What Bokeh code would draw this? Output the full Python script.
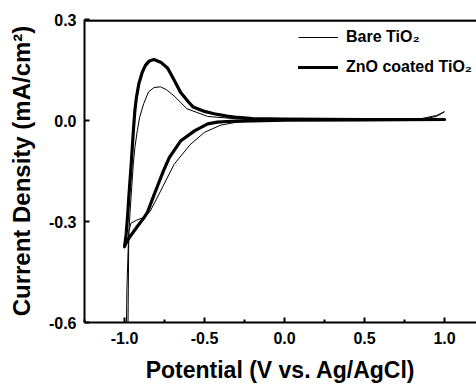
from bokeh.plotting import figure
from bokeh.models import (FixedTicker, NumeralTickFormatter, Range1d, Span,
                          Legend, LegendItem)
from bokeh.embed import file_html
from bokeh.resources import INLINE

# ---- data ----
series_names = ["Bare TiO\u2082", "ZnO coated TiO\u2082"]

bare_potential = [1.0, 0.95, 0.88, 0.5, 0.0, -0.2, -0.3, -0.4, -0.5, -0.59, -0.69,
                  -0.775, -0.84, -0.88, -0.92, -0.96, -0.973, -0.978, -0.985, -1.0,
                  -0.99, -0.985, -0.975, -0.965, -0.955, -0.945, -0.935, -0.92, -0.905,
                  -0.88, -0.85, -0.815, -0.775, -0.74, -0.69, -0.61, -0.48, -0.3,
                  0.0, 0.5, 0.85, 0.95, 1.0]
bare_current = [0.026, 0.012, 0.006, 0.002, 0.0, -0.002, -0.005, -0.014, -0.035, -0.072, -0.13,
                -0.21, -0.27, -0.288, -0.295, -0.305, -0.33, -0.6, -0.8, -0.9,
                -0.7, -0.5, -0.35, -0.27, -0.2, -0.13, -0.08, -0.03, 0.01,
                0.05, 0.085, 0.098, 0.1, 0.092, 0.073, 0.035, 0.012, 0.005,
                0.002, 0.002, 0.005, 0.015, 0.026]

zno_potential = [1.0, 0.5, 0.0, -0.2, -0.3, -0.36, -0.42, -0.48, -0.56, -0.65, -0.72,
                 -0.756, -0.79, -0.82, -0.856, -0.88, -0.92, -0.97, -0.995, -1.0,
                 -0.99, -0.98, -0.973, -0.965, -0.958, -0.95, -0.943, -0.935, -0.925,
                 -0.91, -0.89, -0.87, -0.845, -0.817, -0.77,
                 -0.73, -0.69, -0.65, -0.6, -0.57, -0.5, -0.44, -0.36, -0.29, -0.2,
                 0.0, 0.5, 1.0]
zno_current = [0.003, 0.002, 0.001, -0.001, -0.002, -0.003, -0.005, -0.01, -0.03, -0.061, -0.11,
               -0.149, -0.19, -0.227, -0.272, -0.29, -0.315, -0.348, -0.368, -0.375,
               -0.34, -0.28, -0.227, -0.175, -0.13, -0.07, -0.02, 0.03, 0.07,
               0.11, 0.142, 0.163, 0.177, 0.181, 0.172,
               0.155, 0.12, 0.084, 0.055, 0.04, 0.027, 0.02, 0.013, 0.009, 0.006,
               0.004, 0.003, 0.003]

x_major = [-1.0, -0.5, 0.0, 0.5, 1.0]
x_minor = [-1.25, -0.75, -0.25, 0.25, 0.75]
y_major = [-0.6, -0.3, 0.0, 0.3]

FONT = "Liberation Sans"

xr = Range1d(-1.25, 1.2)
yr = Range1d(-0.6, 0.3)
p = figure(width=476, height=385, output_backend="svg", toolbar_location=None,
           x_range=xr, y_range=yr,
           min_border_left=84, min_border_right=0, min_border_top=19, min_border_bottom=57)
p.outline_line_color = None
p.xgrid.visible = False
p.ygrid.visible = False

r_bare = p.line(bare_potential, bare_current, line_color="black", line_width=1,
                line_join="round")
r_zno = p.line(zno_potential, zno_current, line_color="black", line_width=3.2,
               line_join="round", line_cap="round")

for ax in (p.xaxis[0], p.yaxis[0]):
    ax.axis_line_width = 2
    ax.major_tick_line_width = 2
    ax.minor_tick_line_width = 2
    ax.major_tick_in = 5
    ax.major_tick_out = 0
    ax.minor_tick_in = 3
    ax.minor_tick_out = 0
    ax.major_label_text_font = FONT
    ax.major_label_text_font_style = "bold"
    ax.major_label_text_font_size = "16px"
    ax.major_label_text_color = "black"
    ax.axis_label_text_font = FONT
    ax.axis_label_text_font_style = "bold"
    ax.axis_label_text_color = "black"
    ax.formatter = NumeralTickFormatter(format="0.0")

p.xaxis[0].axis_label_text_font_size = "23px"
p.yaxis[0].axis_label_text_font_size = "24px"
p.xaxis[0].ticker = FixedTicker(ticks=x_major, minor_ticks=x_minor)
p.yaxis[0].ticker = FixedTicker(ticks=y_major, minor_ticks=[])
p.xaxis[0].axis_label = "Potential (V vs. Ag/AgCl)"
p.yaxis[0].axis_label = "Current Density (mA/cm\u00b2)"
p.xaxis[0].major_label_standoff = 9
p.yaxis[0].major_label_standoff = 8
p.xaxis[0].axis_label_standoff = 10
p.yaxis[0].axis_label_standoff = 11

legend = Legend(items=[LegendItem(label=series_names[0], renderers=[r_bare]),
                       LegendItem(label=series_names[1], renderers=[r_zno])],
                location=(214, 245), border_line_color=None, background_fill_alpha=0,
                padding=0, margin=0, spacing=10, glyph_width=40, glyph_height=20,
                label_height=20, label_standoff=8,
                label_text_font=FONT, label_text_font_style="bold",
                label_text_font_size="16px", label_text_color="black")
p.add_layout(legend)

# top frame border, drawn last, nudged one pixel inside the frame
# (the right border of the original lies outside the cropped view)
p.add_layout(Span(location=yr.end - 0.003, dimension="width",
                  line_color="black", line_width=2.5, level="overlay"))

open("out.html", "w").write(file_html(p, INLINE))
